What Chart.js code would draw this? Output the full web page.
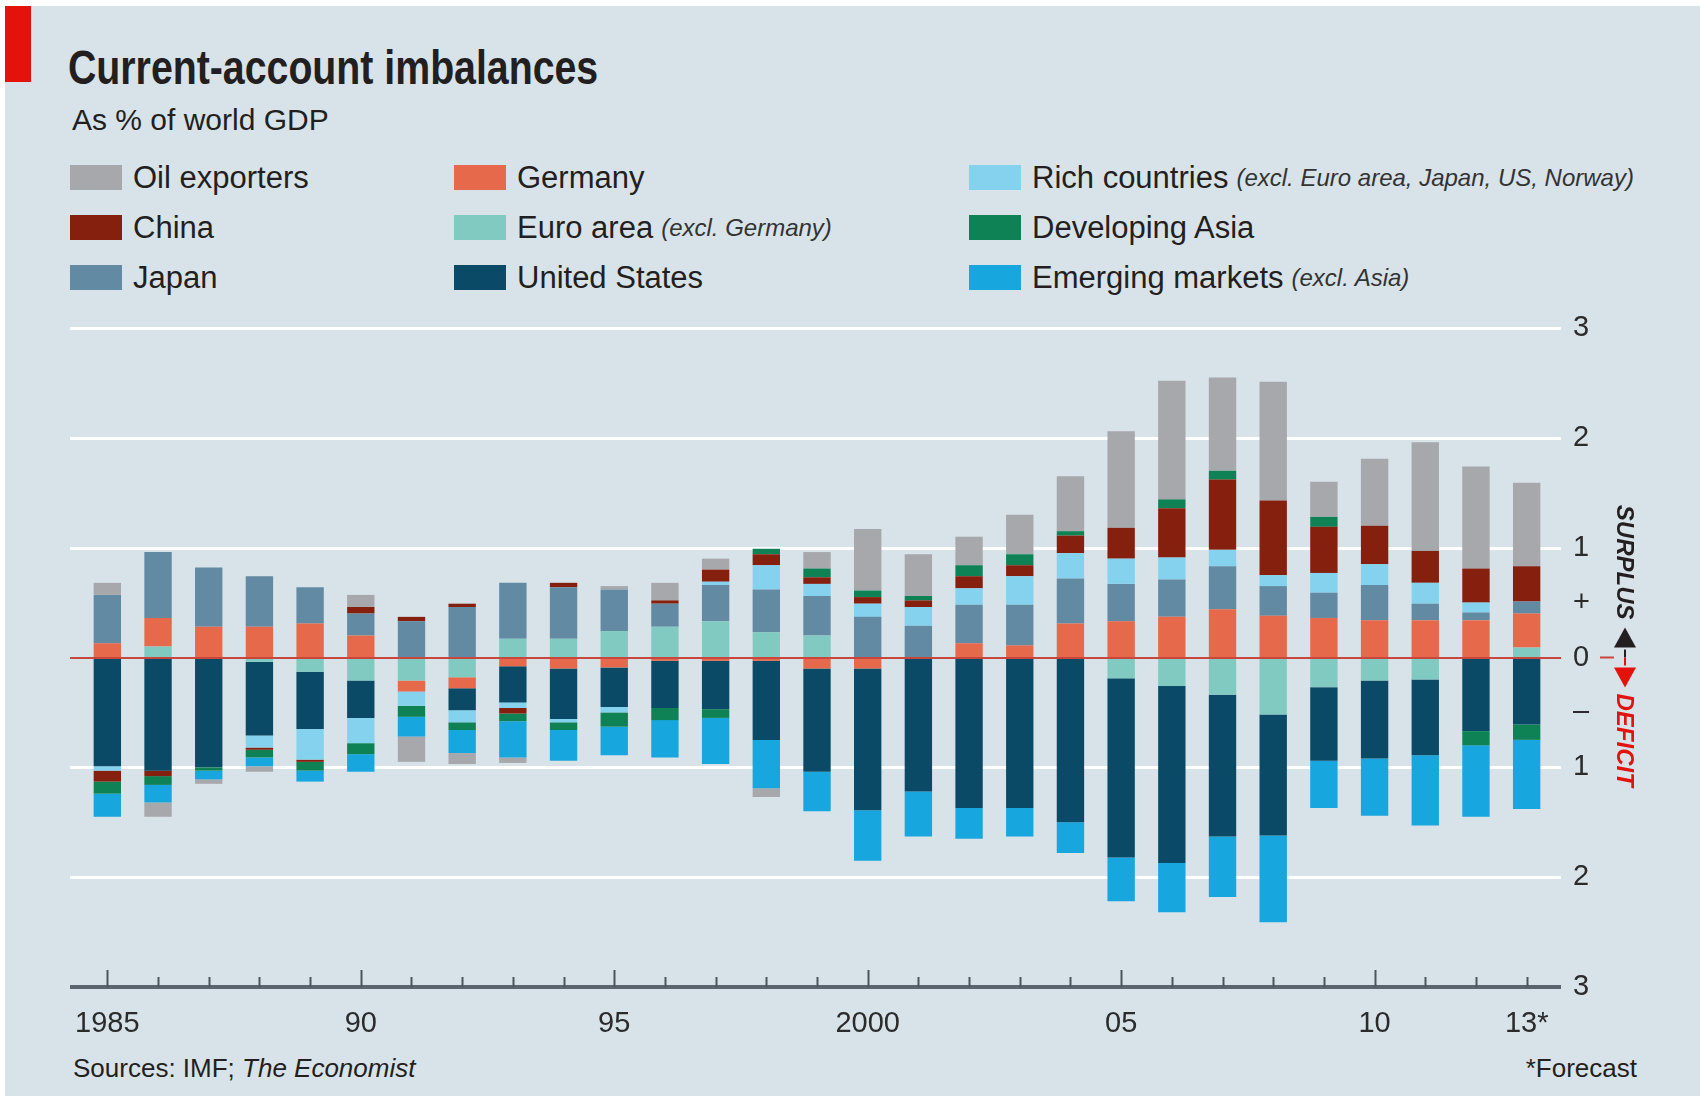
<!DOCTYPE html>
<html>
<head>
<meta charset="utf-8">
<title>Current-account imbalances</title>
<script src="https://cdn.jsdelivr.net/npm/chart.js@4.4.1/dist/chart.umd.min.js"></script>
<style>
  html, body { margin: 0; padding: 0; background: #ffffff; }
  body { position: relative; width: 1700px; height: 1096px; overflow: hidden; font-family: 'Liberation Sans', Arial, sans-serif; color: #231f20; }
  #panel { position: absolute; left: 5px; top: 6px; width: 1695px; height: 1090px; background: #d8e3e9; }
  #redTag { position: absolute; left: 5px; top: 6px; width: 26px; height: 76px; background: #e3120b; }
  #title { position: absolute; left: 68px; top: 44px; font-family: 'Liberation Sans', Arial, sans-serif; font-weight: bold; font-size: 48px; line-height: 1; white-space: nowrap; transform-origin: 0 0; }
  #subtitle { position: absolute; left: 72px; top: 105px; font-size: 30px; line-height: 1; white-space: nowrap; }
  .leg { position: absolute; height: 25px; display: flex; align-items: center; white-space: nowrap; font-size: 31px; line-height: 25px; }
  .leg .sw { width: 52px; height: 25px; margin-right: 11px; flex: none; }
  .leg .note { font-style: italic; font-size: 24px; margin-left: 8px; color: #333; }
  #sources { position: absolute; left: 73px; top: 1055px; font-size: 26px; line-height: 1; white-space: nowrap; }
  #forecast { position: absolute; right: 63px; top: 1055px; font-size: 26px; line-height: 1; white-space: nowrap; }
  #chart { position: absolute; left: 0; top: 0; }
</style>
</head>
<body>
<div id="panel"></div>
<div id="redTag"></div>
<div id="title">Current-account imbalances</div>
<div id="subtitle">As % of world GDP</div>
<div id="legend"></div>
<div id="sources">Sources: IMF; <i>The Economist</i></div>
<div id="forecast">*Forecast</div>
<canvas id="chart" width="1700" height="1096"></canvas>
<script>
// Current-account balances, % of world GDP

const years = [1985, 1986, 1987, 1988, 1989, 1990, 1991, 1992, 1993, 1994,
               1995, 1996, 1997, 1998, 1999, 2000, 2001, 2002, 2003, 2004,
               2005, 2006, 2007, 2008, 2009, 2010, 2011, 2012, 2013];
const xTickLabels = ['1985', '', '', '', '', '90', '', '', '', '',
                     '95', '', '', '', '', '2000', '', '', '', '',
                     '05', '', '', '', '', '10', '', '', '13*'];
const majorTickYears = [1985, 1990, 1995, 2000, 2005, 2010];

const oilExporters = [0.11, -0.13, -0.04, -0.05, 0, 0.11, -0.23, -0.10, -0.05, 0,
                      0.03, 0.16, 0.10, -0.08, 0.15, 0.56, 0.38, 0.26, 0.36, 0.50,
                      0.88, 1.08, 0.85, 1.08, 0.32, 0.61, 0.99, 0.93, 0.76];
const china = [-0.10, -0.05, 0, -0.02, -0.02, 0.06, 0.04, 0.03, -0.05, 0.04,
               0, 0.03, 0.11, 0.10, 0.06, 0.06, 0.06, 0.11, 0.10, 0.16,
               0.28, 0.45, 0.64, 0.68, 0.42, 0.35, 0.29, 0.31, 0.32];
const japan = [0.44, 0.60, 0.54, 0.46, 0.33, 0.20, 0.33, 0.46, 0.51, 0.47,
               0.38, 0.21, 0.33, 0.39, 0.36, 0.37, 0.29, 0.35, 0.37, 0.41,
               0.34, 0.34, 0.39, 0.27, 0.23, 0.32, 0.15, 0.07, 0.11];
const germany = [0.13, 0.26, 0.28, 0.28, 0.31, 0.20, -0.10, -0.10, -0.08, -0.10,
                 -0.09, -0.03, -0.03, -0.03, -0.10, -0.10, 0, 0.13, 0.11, 0.31,
                 0.33, 0.37, 0.44, 0.38, 0.36, 0.34, 0.34, 0.34, 0.31];
const euroArea = [0, 0.10, 0, -0.04, -0.13, -0.21, -0.21, -0.18, 0.17, 0.17,
                  0.24, 0.28, 0.33, 0.23, 0.20, 0, 0, 0, 0, 0,
                  -0.19, -0.26, -0.34, -0.52, -0.27, -0.21, -0.20, 0, 0.09];
const unitedStates = [-0.99, -1.03, -1.00, -0.67, -0.52, -0.34, 0, -0.20, -0.33, -0.46,
                      -0.36, -0.43, -0.44, -0.72, -0.94, -1.29, -1.22, -1.37, -1.37, -1.50,
                      -1.63, -1.61, -1.29, -1.10, -0.67, -0.71, -0.69, -0.67, -0.61];
const richCountries = [-0.04, 0, 0, -0.11, -0.28, -0.23, -0.13, -0.11, -0.05, -0.03,
                       -0.05, 0, 0.03, 0.22, 0.11, 0.12, 0.17, 0.15, 0.26, 0.23,
                       0.23, 0.20, 0.15, 0.10, 0.18, 0.19, 0.19, 0.09, 0];
const developingAsia = [-0.11, -0.08, -0.03, -0.07, -0.08, -0.10, -0.10, -0.07, -0.07, -0.07,
                        -0.13, -0.11, -0.08, 0.05, 0.08, 0.06, 0.04, 0.10, 0.10, 0.04,
                        0, 0.08, 0.08, 0, 0.09, 0, 0, -0.13, -0.14];
const emergingMarkets = [-0.21, -0.16, -0.08, -0.08, -0.10, -0.16, -0.18, -0.21, -0.33, -0.28,
                         -0.26, -0.34, -0.42, -0.44, -0.36, -0.46, -0.41, -0.28, -0.26, -0.28,
                         -0.40, -0.45, -0.55, -0.79, -0.43, -0.52, -0.64, -0.65, -0.63];

// stacking order, from the zero line outwards
const series = [
  { name: 'Euro area', note: '(excl. Germany)', data: euroArea, color: '#80cac2' },
  { name: 'Germany', note: '', data: germany, color: '#e5694a' },
  { name: 'United States', note: '', data: unitedStates, color: '#0b4a67' },
  { name: 'Japan', note: '', data: japan, color: '#628aa3' },
  { name: 'Rich countries', note: '(excl. Euro area, Japan, US, Norway)', data: richCountries, color: '#84d2ee' },
  { name: 'China', note: '', data: china, color: '#85200f' },
  { name: 'Developing Asia', note: '', data: developingAsia, color: '#0e8254' },
  { name: 'Emerging markets', note: '(excl. Asia)', data: emergingMarkets, color: '#17a6dd' },
  { name: 'Oil exporters', note: '', data: oilExporters, color: '#a6a8ab' }
];

// legend is laid out in three columns, read down
const legendColumns = [
  ['Oil exporters', 'China', 'Japan'],
  ['Germany', 'Euro area', 'United States'],
  ['Rich countries', 'Developing Asia', 'Emerging markets']
];
const legendColumnX = [70, 454, 969];
const legendRowTop = [165, 215, 265];

function buildLegend() {
  const box = document.getElementById('legend');
  legendColumns.forEach((col, c) => {
    col.forEach((name, r) => {
      const s = series.find(d => d.name === name);
      const item = document.createElement('div');
      item.className = 'leg';
      item.style.left = legendColumnX[c] + 'px';
      item.style.top = legendRowTop[r] + 'px';
      item.innerHTML = '<span class="sw" style="background:' + s.color + '"></span>' +
        '<span>' + s.name + '</span>' +
        (s.note ? '<span class="note">' + s.note + '</span>' : '');
      box.appendChild(item);
    });
  });
}

// the Economist face is condensed; squeeze the title to its width
function fitTitle() {
  const title = document.getElementById('title');
  const w = title.getBoundingClientRect().width;
  title.style.transform = 'scaleX(' + (530 / w).toFixed(3) + ')';
}

const tickFont = { family: "'Liberation Sans', Arial, sans-serif", size: 29 };

// white gridlines behind the bars, zero line / axis / ticks on top
const overlay = {
  id: 'overlay',
  beforeDatasetsDraw(chart) {
    const { ctx, chartArea, scales: { y } } = chart;
    ctx.save();
    ctx.strokeStyle = '#ffffff';
    ctx.lineWidth = 3;
    y.ticks.forEach(t => {
      if (!Number.isInteger(t.value) || t.value === 0 || t.value === y.min) return;
      const py = Math.round(y.getPixelForValue(t.value)) + 0.5;
      ctx.beginPath();
      ctx.moveTo(chartArea.left - 12, py);
      ctx.lineTo(chartArea.right + 9, py);
      ctx.stroke();
    });
    ctx.restore();
  },
  afterDatasetsDraw(chart) {
    const { ctx, chartArea, scales: { x, y } } = chart;
    ctx.save();
    // zero line
    const y0 = Math.round(y.getPixelForValue(0));
    ctx.strokeStyle = '#c8463c';
    ctx.lineWidth = 2;
    ctx.beginPath();
    ctx.moveTo(chartArea.left - 12, y0);
    ctx.lineTo(chartArea.right + 9, y0);
    ctx.stroke();
    // bottom axis and year ticks
    const yb = Math.round(y.getPixelForValue(y.min));
    ctx.strokeStyle = '#59666d';
    ctx.lineWidth = 4;
    ctx.beginPath();
    ctx.moveTo(chartArea.left - 12, yb);
    ctx.lineTo(chartArea.right + 9, yb);
    ctx.stroke();
    ctx.strokeStyle = '#4a555c';
    ctx.lineWidth = 2;
    years.forEach((yr, i) => {
      const px = Math.round(x.getPixelForValue(i)) + 0.5;
      const len = majorTickYears.includes(yr) ? 17 : 10;
      ctx.beginPath();
      ctx.moveTo(px, yb);
      ctx.lineTo(px, yb - len);
      ctx.stroke();
    });
    ctx.restore();
  },
  afterDraw(chart) {
    const { ctx, scales: { y } } = chart;
    const y0 = y.getPixelForValue(0);
    const cx = 1625;
    ctx.save();
    // small dash past the "0" label
    ctx.strokeStyle = '#c8463c';
    ctx.lineWidth = 2;
    ctx.beginPath();
    ctx.moveTo(1600, y0);
    ctx.lineTo(1614, y0);
    ctx.stroke();
    ctx.strokeStyle = '#231f20';
    ctx.beginPath(); ctx.moveTo(cx, y0 - 8); ctx.lineTo(cx, y0); ctx.stroke();
    ctx.strokeStyle = '#e3120b';
    ctx.beginPath(); ctx.moveTo(cx, y0); ctx.lineTo(cx, y0 + 8); ctx.stroke();
    // triangles
    ctx.fillStyle = '#231f20';
    ctx.beginPath();
    ctx.moveTo(cx, y0 - 30); ctx.lineTo(cx + 11, y0 - 10); ctx.lineTo(cx - 11, y0 - 10);
    ctx.closePath(); ctx.fill();
    ctx.fillStyle = '#e3120b';
    ctx.beginPath();
    ctx.moveTo(cx, y0 + 30); ctx.lineTo(cx + 11, y0 + 10); ctx.lineTo(cx - 11, y0 + 10);
    ctx.closePath(); ctx.fill();
    // rotated labels
    ctx.translate(cx, y0);
    ctx.rotate(Math.PI / 2);
    ctx.font = "italic bold 24px 'Liberation Sans', Arial, sans-serif";
    ctx.textBaseline = 'middle';
    ctx.fillStyle = '#231f20';
    ctx.textAlign = 'right';
    ctx.fillText('SURPLUS', -38, 1);
    ctx.fillStyle = '#e3120b';
    ctx.textAlign = 'left';
    ctx.fillText('DEFICIT', 36, 1);
    ctx.restore();
  }
};

function renderChart() {
  const ctx = document.getElementById('chart').getContext('2d');
  new Chart(ctx, {
    type: 'bar',
    data: {
      labels: years,
      datasets: series.map(s => ({
        label: s.name,
        data: s.data,
        backgroundColor: s.color,
        borderWidth: 0,
        barPercentage: 0.54,
        categoryPercentage: 1
      }))
    },
    options: {
      responsive: false,
      animation: false,
      layout: { padding: { left: 82, right: 88, top: 328, bottom: 49 } },
      plugins: { legend: { display: false }, tooltip: { enabled: false } },
      scales: {
        x: {
          stacked: true,
          grid: { display: false },
          border: { display: false },
          afterFit: scale => { scale.height = 60; },
          ticks: {
            autoSkip: false,
            maxRotation: 0,
            padding: 12,
            color: '#2b2b2b',
            font: tickFont,
            callback: (val, i) => xTickLabels[i]
          }
        },
        y: {
          stacked: true,
          position: 'right',
          min: -3,
          max: 3,
          grid: { display: false, drawTicks: false },
          border: { display: false },
          afterFit: scale => { scale.width = 60; },
          ticks: {
            stepSize: 0.5,
            padding: 21,
            color: '#2b2b2b',
            font: tickFont,
            callback: v => {
              if (v === 0.5) return '+';
              if (v === -0.5) return '\u2013';
              return Number.isInteger(v) ? String(Math.abs(v)) : '';
            }
          }
        }
      }
    },
    plugins: [overlay]
  });
}

document.addEventListener('DOMContentLoaded', () => {
  buildLegend();
  fitTitle();
  renderChart();
});
</script>
</body>
</html>
